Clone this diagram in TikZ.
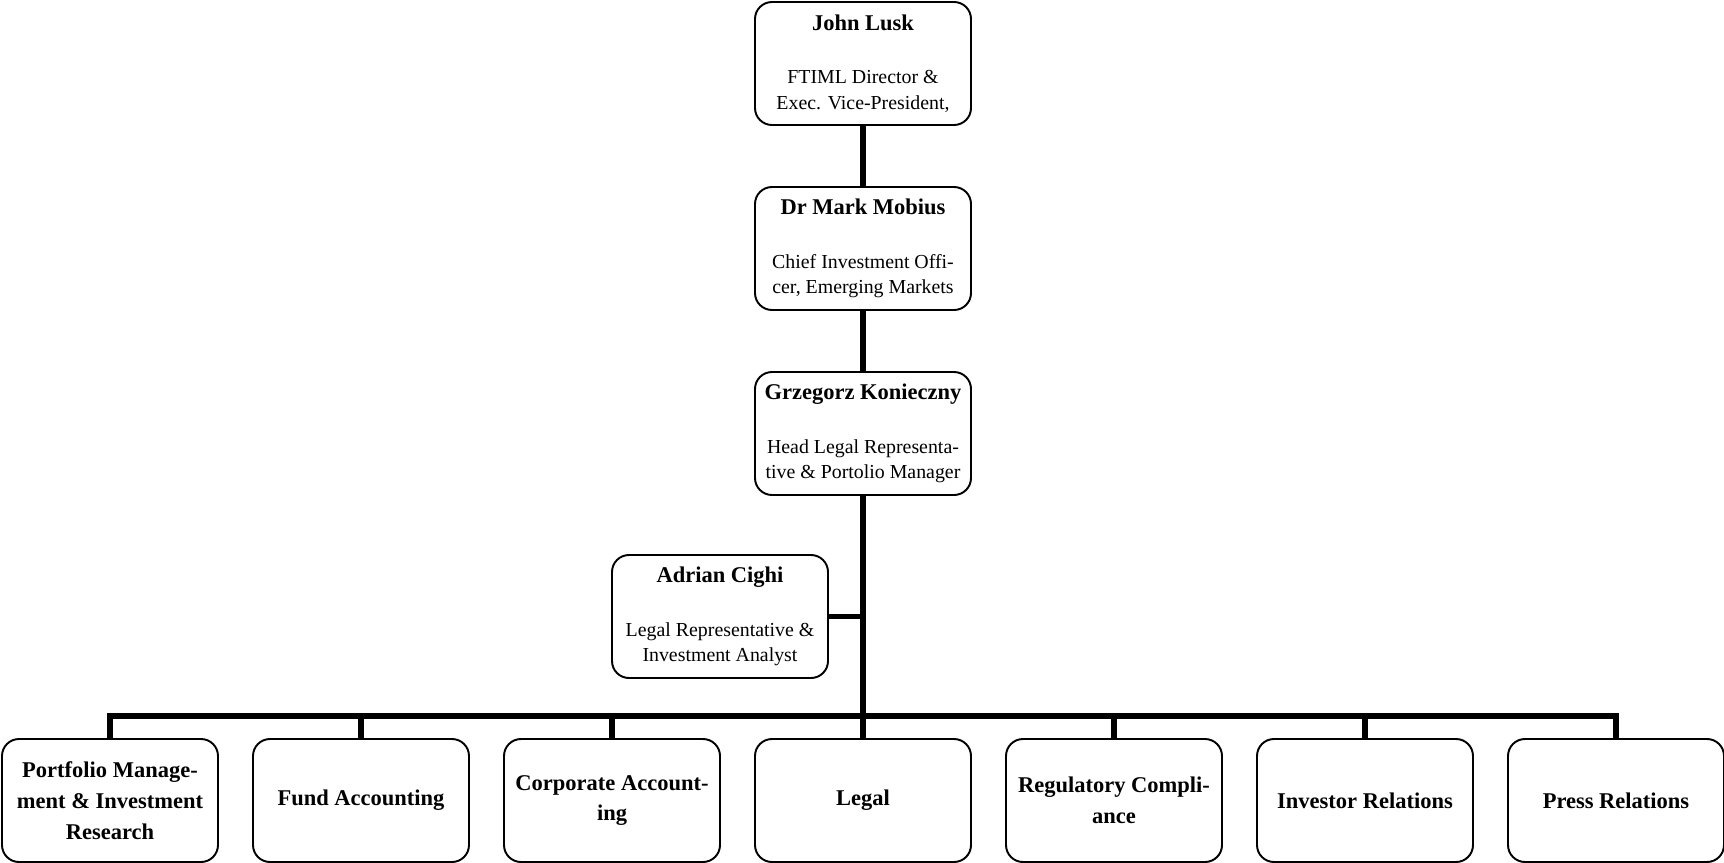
\documentclass[tikz,border=0pt]{standalone}
\usepackage{fontspec}
\setmainfont{Liberation Serif}
\newcommand{\namefont}{\fontsize{12.8}{15}\selectfont\bfseries}
\tikzset{
  person/.style={draw, line width=1.1pt, rounded corners=0.34cm,
    minimum width=4.32cm, minimum height=2.46cm, align=center,
    inner sep=2pt, font=\fontsize{11.3}{14.5}\selectfont},
  dept/.style={person, font=\fontsize{12.8}{17.6}\selectfont\bfseries},
  link/.style={line width=3.1pt}
}
\begin{document}
\begin{tikzpicture}
  \useasboundingbox (0,0) rectangle (34.48,-17.26);
  % management chain
  \node[person] (lusk) at (17.26,-1.27)
    {{\namefont John Lusk}\\[16pt]FTIML Director \&\\Exec. Vice-President,};
  \node[person] (mobius) at (17.26,-4.97)
    {{\namefont Dr Mark Mobius}\\[16pt]Chief Investment Offi-\\cer, Emerging Markets};
  \node[person] (konieczny) at (17.26,-8.67)
    {{\namefont Grzegorz Konieczny}\\[16pt]Head Legal Representa-\\tive \& Portolio Manager};
  % assistant
  \node[person] (cighi) at (14.40,-12.33)
    {{\namefont Adrian Cighi}\\[16pt]Legal Representative \&\\Investment Analyst};
  % departments
  \foreach \i/\txt in {1/{Portfolio Manage-\\ment \& Investment\\Research},
                       2/{Fund Accounting},
                       3/{Corporate Account-\\ing},
                       4/{Legal},
                       5/{Regulatory Compli-\\ance},
                       6/{Investor Relations},
                       7/{Press Relations}}
    \node[dept] (d\i) at ({2.20+5.02*(\i-1)},-16.01) {\txt};
  \coordinate (bus) at (17.26,-14.32);
  % connectors
  \draw[link] (lusk) -- (mobius);
  \draw[link] (mobius) -- (konieczny);
  \draw[link] (konieczny) -- (bus);
  \draw[link] (cighi.east) -- (cighi.east -| konieczny.south);
  \foreach \i in {1,...,7}
    \draw[link] (d\i.north) |- (bus);
\end{tikzpicture}
\end{document}
